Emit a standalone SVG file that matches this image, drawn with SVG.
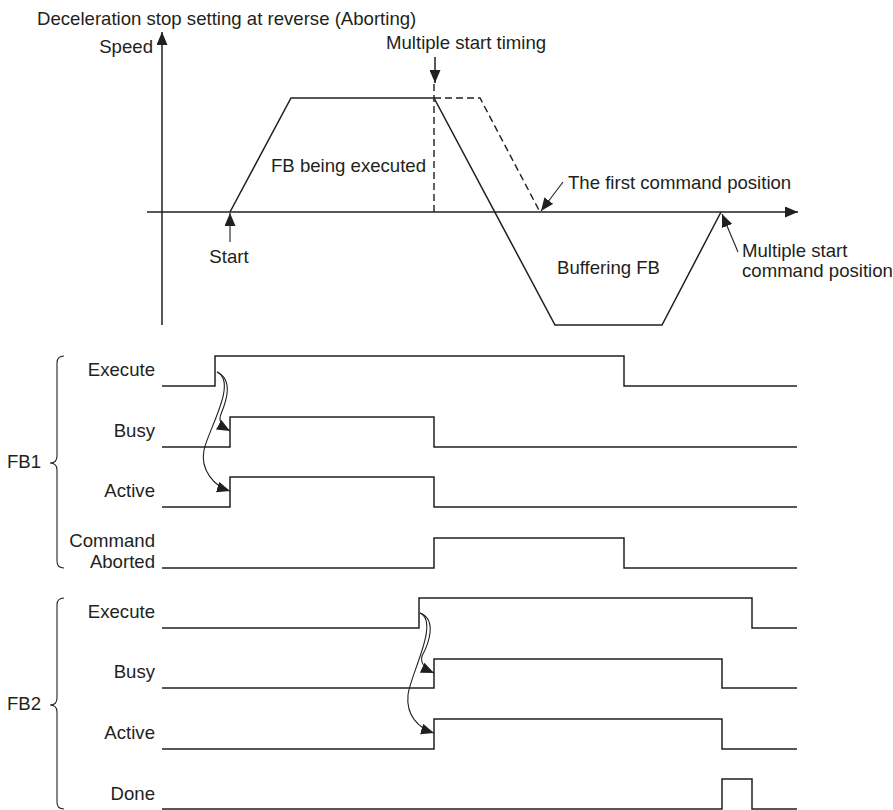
<svg xmlns="http://www.w3.org/2000/svg" width="893" height="810" viewBox="0 0 893 810">
<style>
text{font-family:"Liberation Sans",Arial,sans-serif;font-size:18.6px;fill:#231f20}
.ln{fill:none;stroke:#231f20;stroke-width:1.5}
.th{fill:none;stroke:#231f20;stroke-width:1.1}
.ds{fill:none;stroke:#231f20;stroke-width:1.4;stroke-dasharray:7,4}
.e{text-anchor:end}
</style>
<defs>
<marker id="ah" markerUnits="userSpaceOnUse" markerWidth="13" markerHeight="11" refX="13" refY="5.5" orient="auto">
<path d="M0,0 L13,5.5 L0,11 z" fill="#231f20"/>
</marker>
</defs>
<rect width="893" height="810" fill="#fff"/>

<g id="speed-chart">
<text x="37" y="25">Deceleration stop setting at reverse (Aborting)</text>
<text x="153" y="53" class="e">Speed</text>
<line class="ln" x1="162" y1="325" x2="162" y2="32" marker-end="url(#ah)"/>
<line class="ln" x1="147" y1="212" x2="798" y2="212" marker-end="url(#ah)"/>
<polyline class="ln" points="230,212 291,98 434,98 555,325 662,325 721,212"/>
<polyline class="ds" points="434,98 480,98 540,212"/>
<line class="ds" x1="434" y1="84" x2="434" y2="212"/>
<text x="271" y="172">FB being executed</text>
<text x="557" y="274">Buffering FB</text>
</g>

<g id="labels-top">
<text x="386" y="49">Multiple start timing</text>
<line class="ln" x1="435" y1="57" x2="435" y2="83" marker-end="url(#ah)"/>
<text x="568" y="189">The first command position</text>
<line class="th" x1="563" y1="182" x2="541" y2="211" marker-end="url(#ah)"/>
<text x="742" y="257">Multiple start</text>
<text x="742" y="277">command position</text>
<line class="th" x1="738" y1="252" x2="722" y2="214" marker-end="url(#ah)"/>
<text x="229" y="263" text-anchor="middle">Start</text>
<line class="th" x1="230" y1="242" x2="230" y2="213" marker-end="url(#ah)"/>
</g>

<g id="fb1">
<text x="7" y="468">FB1</text>
<path class="th" d="M64,356 Q57,356 57,363 L57,456 Q57,463 50,463 Q57,463 57,470 L57,561 Q57,568 64,568"/>
<text x="155" y="376" class="e">Execute</text>
<polyline class="ln" points="162,386 215,386 215,356 624,356 624,386 797,386"/>
<text x="155" y="437" class="e">Busy</text>
<polyline class="ln" points="162,447 230,447 230,417 434,417 434,447 797,447"/>
<text x="155" y="497" class="e">Active</text>
<polyline class="ln" points="162,507 230,507 230,477 434,477 434,507 797,507"/>
<text x="155" y="547" class="e">Command</text>
<text x="155" y="568" class="e">Aborted</text>
<polyline class="ln" points="162,568 434,568 434,538 624,538 624,568 797,568"/>
</g>

<g id="fb2">
<text x="7" y="710">FB2</text>
<path class="th" d="M64,598 Q57,598 57,605 L57,698 Q57,705 50,705 Q57,705 57,712 L57,802 Q57,809 64,809"/>
<text x="155" y="618" class="e">Execute</text>
<polyline class="ln" points="162,628 419,628 419,598 752,598 752,628 797,628"/>
<text x="155" y="678" class="e">Busy</text>
<polyline class="ln" points="162,688 434,688 434,659 722,659 722,688 797,688"/>
<text x="155" y="739" class="e">Active</text>
<polyline class="ln" points="162,749 434,749 434,719 722,719 722,749 797,749"/>
<text x="155" y="800" class="e">Done</text>
<polyline class="ln" points="162,809 722,809 722,779 752,779 752,809 797,809"/>
</g>

<g id="connectors">
<path class="th" d="M217,372 C234,380 226,402 221,414 C218,421 221,426 230,431" marker-end="url(#ah)"/>
<path class="th" d="M217,372 C238,382 208,430 204,450 C200,470 214,486 230,491" marker-end="url(#ah)"/>
<path class="th" d="M420,613 C438,620 428,645 422,656 C420,664 425,669 434,673" marker-end="url(#ah)"/>
<path class="th" d="M420,613 C440,622 410,675 408,695 C406,715 418,728 434,733" marker-end="url(#ah)"/>
</g>
</svg>
